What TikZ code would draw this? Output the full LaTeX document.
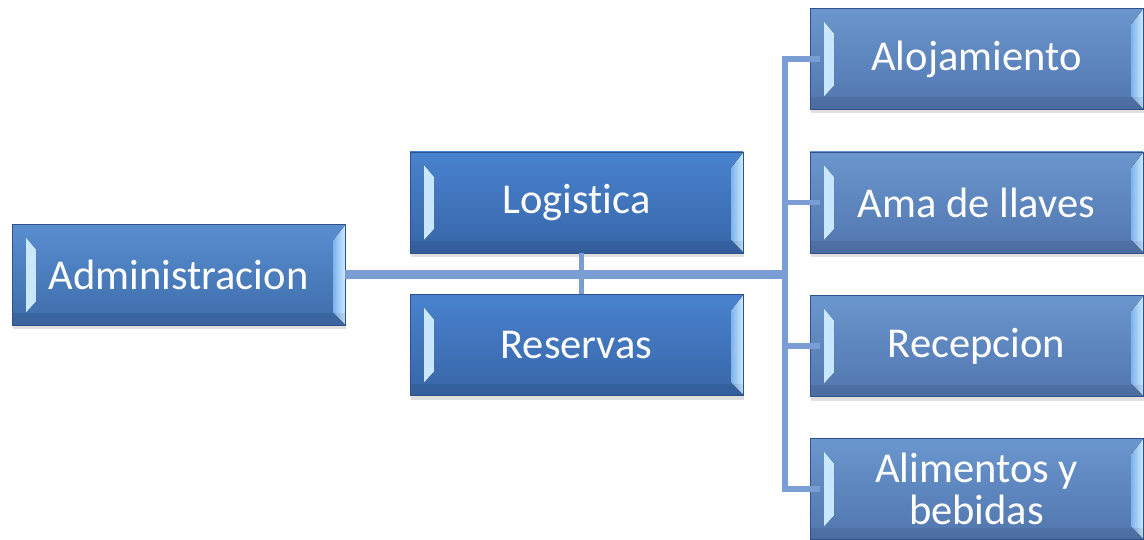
\documentclass[tikz,border=0pt]{standalone}
\usepackage{fontspec}
\setmainfont[Ligatures=NoCommon]{Carlito}
\usetikzlibrary{shadows}

\definecolor{admintop}{RGB}{88,142,208}
\definecolor{adminbot}{RGB}{62,108,170}
\definecolor{logtop}{RGB}{72,130,206}
\definecolor{logbot}{RGB}{56,102,168}
\definecolor{righttop}{RGB}{106,150,206}
\definecolor{rightbot}{RGB}{82,118,174}
\definecolor{boxedge}{RGB}{48,82,138}
\definecolor{linkblue}{RGB}{122,157,212}
\definecolor{bevellight}{RGB}{205,235,255}
\definecolor{bevelmid}{RGB}{125,178,236}

\tikzset{
  bevelbox/.style={rectangle, minimum width=333pt, minimum height=101pt, inner sep=0pt,
    draw=boxedge, line width=0.8pt, text=white, align=center,
    font=\fontsize{42.5}{42}\selectfont,
    drop shadow={shadow xshift=1pt, shadow yshift=-4pt, opacity=0.25, fill=gray},
    path picture={
      % light strip on the left
      \fill[left color=bevellight, right color=bevelmid]
        ([shift={(14pt,-13pt)}]path picture bounding box.north west)
        -- ([shift={(24pt,-25pt)}]path picture bounding box.north west)
        -- ([shift={(24pt,24pt)}]path picture bounding box.south west)
        -- ([shift={(14pt,13pt)}]path picture bounding box.south west) -- cycle;
      % light strip on the right
      \fill[left color=bevelmid, right color=bevellight]
        ([shift={(-12pt,-16pt)}]path picture bounding box.north east)
        -- ([shift={(0pt,-1pt)}]path picture bounding box.north east)
        -- ([shift={(0pt,1pt)}]path picture bounding box.south east)
        -- ([shift={(-12pt,13pt)}]path picture bounding box.south east) -- cycle;
      % darker band at the bottom
      \fill[black, opacity=0.08] (path picture bounding box.south west) rectangle ++(333pt,12pt);
    }},
  adminbox/.style={bevelbox, top color=admintop, bottom color=adminbot},
  midbox/.style={bevelbox, top color=logtop, bottom color=logbot},
  rightbox/.style={bevelbox, top color=righttop, bottom color=rightbot},
  link/.style={draw=linkblue, line width=6pt, line cap=rect},
  trunk/.style={draw=linkblue, line width=9pt}
}

\begin{document}
\begin{tikzpicture}[x=1pt,y=1pt]
\useasboundingbox (0,0) rectangle (1144,539);

% boxes
\node[adminbox] (admin) at (178.5,264) {Administracion};
\node[midbox] (logistica) at (576.5,336.5) {Logistica};
\node[midbox] (reservas) at (576.5,194) {Reservas};
\node[rightbox] (alojamiento) at (976.5,480) {Alojamiento};
\node[rightbox] (amallaves) at (976.5,336.5) {Ama de llaves};
\node[rightbox] (recepcion) at (976.5,193) {Recepcion};
\node[rightbox] (alimentos) at (976.5,50) {Alimentos y\\bebidas};

% connectors
\coordinate (spine) at (785,264);
\draw[trunk] (admin.east) -- ([xshift=3pt]spine |- admin.east);
\draw[link, line cap=butt, line width=5pt] ([xshift=5pt]logistica.south) -- ([xshift=5pt]reservas.north);
\draw[link] (spine |- alojamiento.west) -- (spine |- alimentos.west);
\foreach \n in {alojamiento,amallaves,recepcion,alimentos}
  \draw[link, line width=5.5pt] (spine |- \n.west) -- ([xshift=8pt]\n.west);

\end{tikzpicture}
\end{document}
